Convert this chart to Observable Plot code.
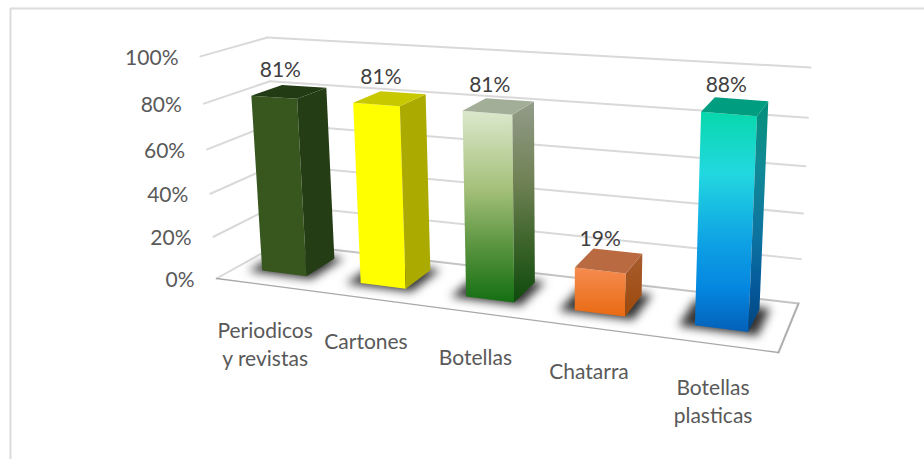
<!DOCTYPE html>
<html><head><meta charset="utf-8">
<script src="https://cdn.jsdelivr.net/npm/d3@7"></script>
<script src="https://cdn.jsdelivr.net/npm/@observablehq/plot@0.6"></script>
<style>html,body{margin:0;background:#fff}svg{display:block}</style>
</head><body><div id="chart"></div>
<script>
const categories = ["Periodicos\ny revistas", "Cartones", "Botellas", "Chatarra", "Botellas\nplasticas"];
const values = [0.81, 0.81, 0.81, 0.19, 0.88];
const valueLabels = ["81%", "81%", "81%", "19%", "88%"];
const ticks = [0, 0.2, 0.4, 0.6, 0.8, 1];
const tickLabels = ["0%", "20%", "40%", "60%", "80%", "100%"];

// view of the box: floor corners, the point where the uprights converge, wall height at each corner
const floorCorners = [[216,278],[778,352],[798,303],[279,243]];
const vanish = [558,5024];
const rise = [0.0468,0.0546,0.0500,0.0431];
function homography(q){
  const [[x0,y0],[x1,y1],[x2,y2],[x3,y3]] = q;
  const dx1=x1-x2,dx2=x3-x2,sx=x0-x1+x2-x3,dy1=y1-y2,dy2=y3-y2,sy=y0-y1+y2-y3;
  const den=dx1*dy2-dx2*dy1, g=(sx*dy2-dx2*sy)/den, h=(dx1*sy-sx*dy1)/den;
  const a=x1-x0+g*x1,b=x3-x0+h*x3,d=y1-y0+g*y1,e=y3-y0+h*y3;
  return (u,w)=>{const k=g*u+h*w+1;return [(a*u+b*w+x0)/k,(d*u+e*w+y0)/k];};
}
const hFloor=homography(floorCorners);
function project(u,w,v){
  const t=v/(1+0.08*(1-v));
  const a=hFloor(u,w);
  const s=(1-u)*(1-w)*rise[0]+u*(1-w)*rise[1]+u*w*rise[2]+(1-u)*w*rise[3];
  return {x:a[0]+(a[0]-vanish[0])*s*t, y:a[1]+(a[1]-vanish[1])*s*t};
}
const depth0=0.30, depth1=0.78;
const barU=[0.103,0.3055,0.509,0.703,0.902];
const barHalf=[0.047,0.0445,0.044,0.043,0.042];

const faceStyles=[
 {front:"#38571f",side:"#253d15",top:"#233b14"},
 {front:"#ffff00",side:"#aaaa00",top:"#c8c800"},
 {front:"url(#f3)",side:"url(#s3)",top:"#a3ae98"},
 {front:"url(#f4)",side:"url(#s4)",top:"#b96a40"},
 {front:"url(#f5)",side:"url(#s5)",top:"#009d80"}
];
const gradients={
 f3:[[0,"#dbe8cc"],[.4,"#a6c17c"],[.7,"#5b9540"],[1,"#146f12"]],
 s3:[[0,"#939c8a"],[.4,"#6f8154"],[.7,"#3d642b"],[1,"#0e4a0c"]],
 f4:[[0,"#f58c50"],[1,"#e96a12"]],
 s4:[[0,"#a85c2f"],[1,"#9c4a0a"]],
 f5:[[0,"#07d8ab"],[.28,"#22d8e0"],[.6,"#0ea0e4"],[.8,"#0487e0"],[1,"#0460b8"]],
 s5:[[0,"#04907a"],[.28,"#118a96"],[.6,"#0c72a0"],[.8,"#045a9a"],[1,"#03447e"]]
};
const defs=()=>{
  const d=d3.create("svg:defs");
  for(const [id,stops] of Object.entries(gradients)){
    const g=d.append("linearGradient").attr("id",id).attr("x1",0).attr("y1",0).attr("x2",0).attr("y2",1);
    for(const [o,c] of stops) g.append("stop").attr("offset",o).attr("stop-color",c);
  }
  return d.node();
};
const poly=(pts,fill,extra={})=>Plot.line([...pts,pts[0]],{x:"x",y:"y",fill,stroke:"none",...extra});
const seg=(a,b,stroke,strokeWidth,extra={})=>Plot.line([a,b],{x:"x",y:"y",stroke,strokeWidth,...extra});

const marks=[defs];
marks.push(Plot.ruleY([8],{x1:10,x2:924,stroke:"#dcdcdc",strokeWidth:2}));
marks.push(Plot.ruleX([10],{y1:8,y2:459,stroke:"#dcdcdc",strokeWidth:2}));
for(const t of ticks){
  if(t>0){
    marks.push(seg(project(0,0,t),project(0,1,t),"#d9d9d9",2));
    marks.push(seg(project(0,1,t),project(1,1,t),"#d9d9d9",2));
  }
}
marks.push(seg(project(0,1,0),project(1,1,0),"#c4c4c4",2));
marks.push(seg(project(0,0,0),project(0,1,0),"#d9d9d9",2));
marks.push(seg(project(1,0,0),project(1,1,0),"#b0b0b0",2));
marks.push(seg(project(0,0,0),project(1,0,0),"#a8a8a8",1.3));
values.forEach((v,i)=>{
  const u=barU[i],h=barHalf[i]+0.016;
  marks.push(poly([project(u-h-.008,depth0-.05,0),project(u+h,depth0-.05,0),project(u+h,depth1+.04,0),project(u-h-.008,depth1+.04,0)],"#333333",{imageFilter:"blur(5px)"}));
});
values.forEach((v,i)=>{
  const u=barU[i],l=u-barHalf[i],r=u+barHalf[i],s=faceStyles[i];
  marks.push(poly([project(l,depth0,v),project(r,depth0,v),project(r,depth0,0),project(l,depth0,0)],s.front));
  marks.push(poly([project(r,depth0,v),project(r,depth1,v),project(r,depth1,0),project(r,depth0,0)],s.side));
  marks.push(poly([project(l,depth0,v),project(r,depth0,v),project(r,depth1,v),project(l,depth1,v)],s.top));
});
marks.push(Plot.text(ticks.map((t,i)=>({p:project(0,0,t),s:tickLabels[i]})),{
  x:d=>d.p.x,y:d=>d.p.y,text:"s",dx:-22,dy:2,textAnchor:"end",fill:"#595959",fontSize:21}));
marks.push(Plot.text(values.map((v,i)=>({p:project(barU[i],(depth0+depth1)/2,v),s:valueLabels[i]})),{
  x:d=>d.p.x,y:d=>d.p.y,text:"s",dx:-9,dy:-21,fill:"#404040",fontSize:21}));
const labelShift=[[0,58],[0,42],[0,43],[1,43],[0,56]];
marks.push(Plot.text(categories.map((c,i)=>({p:project(barU[i],0,0),s:c,sh:labelShift[i]})),{
  x:d=>d.p.x+d.sh[0],y:d=>d.p.y+d.sh[1],text:"s",fill:"#595959",fontSize:21,lineHeight:1.35,lineAnchor:"middle"}));

const chart=Plot.plot({width:924,height:459,margin:0,
  style:{fontFamily:"Lato, Carlito, sans-serif",background:"#fff"},
  x:{domain:[0,924],range:[0,924],axis:null},
  y:{domain:[0,459],range:[0,459],axis:null},
  marks});
document.getElementById("chart").append(chart);
</script></body></html>
